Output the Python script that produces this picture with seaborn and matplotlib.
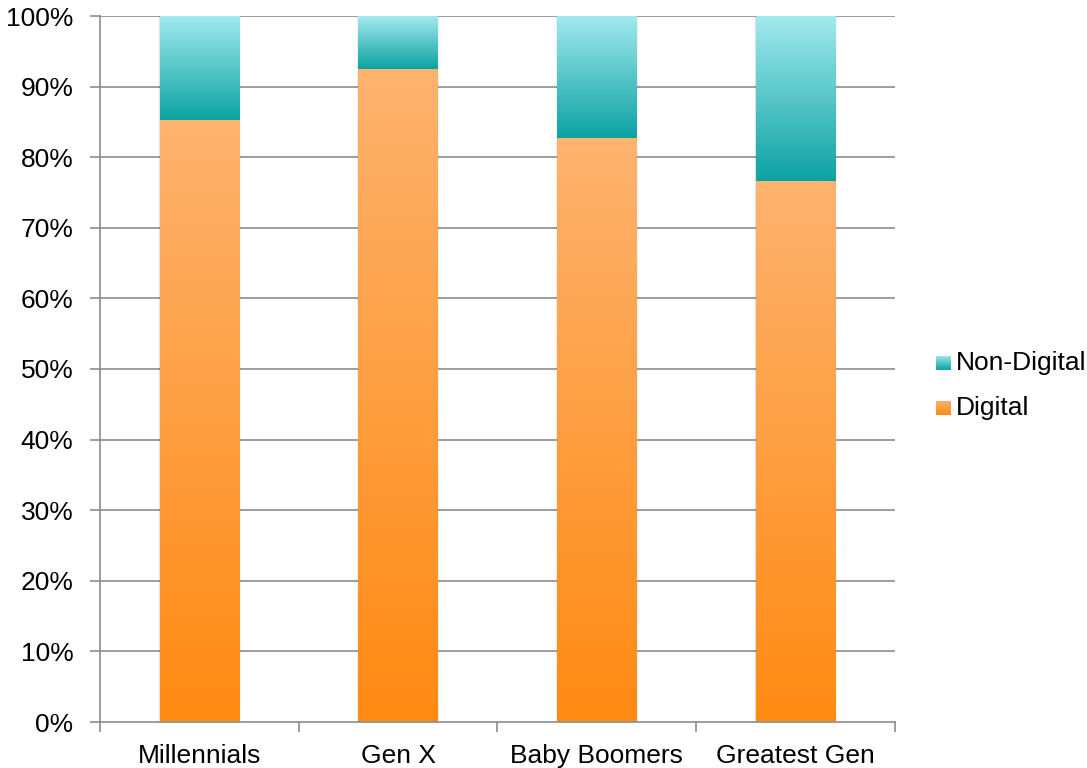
import numpy as np
import pandas as pd
import matplotlib
matplotlib.use("Agg")
import matplotlib.pyplot as plt
from matplotlib.colors import LinearSegmentedColormap
from matplotlib.ticker import FixedLocator, FuncFormatter
import seaborn as sns

# Share of media consumption by generation (percent)
generations = ["Millennials", "Gen X", "Baby Boomers", "Greatest Gen"]
digital = [85.3, 92.5, 82.7, 76.6]
non_digital = [100 - d for d in digital]
series_names = ["Non-Digital", "Digital"]

df = pd.DataFrame({"generation": generations, "Digital": digital,
                   "Non-Digital": non_digital})
df["total"] = df["Digital"] + df["Non-Digital"]

sns.set_theme(style="white")
plt.rcParams["font.family"] = ["Liberation Sans", "DejaVu Sans"]

GRID = "#8c8c8c"
FS = 19
orange_cmap = LinearSegmentedColormap.from_list("orange", ["#FF8A12", "#FDB36F"])
teal_cmap = LinearSegmentedColormap.from_list("teal", ["#0CA2A3", "#A2EAEE"])

fig = plt.figure(figsize=(10.87, 7.68), dpi=100)
ax = fig.add_axes([100 / 1087, 46 / 768, 795 / 1087, 706 / 768])

# Stacked bars: full-height bar for the total, digital share on top of it
sns.barplot(data=df, x="generation", y="total", ax=ax, width=0.4,
            color="#0CA2A3", saturation=1, zorder=3)
n = len(generations)
sns.barplot(data=df, x="generation", y="Digital", ax=ax, width=0.4,
            color="#FF8A12", saturation=1, zorder=4)

grad = np.linspace(0, 1, 256).reshape(-1, 1)
patches = ax.patches
total_bars = patches[:n]
digital_bars = patches[n:2 * n]
for tb, db in zip(total_bars, digital_bars):
    x0 = tb.get_x()
    w = tb.get_width()
    top = tb.get_height()
    mid = db.get_height()
    # soft shadow around each bar
    for k, a in [(3.0, 0.025), (2.0, 0.035), (1.0, 0.05)]:
        dx = k * 0.0027
        ax.add_patch(plt.Rectangle((x0 - dx, 0), w + 2 * dx, top, color="black",
                                   alpha=a, lw=0, zorder=2.5))
    tb.set_visible(False)
    db.set_visible(False)
    ax.imshow(grad, cmap=orange_cmap, origin="lower", aspect="auto",
              extent=(x0, x0 + w, 0, mid), zorder=4, interpolation="bilinear")
    ax.imshow(grad, cmap=teal_cmap, origin="lower", aspect="auto",
              extent=(x0, x0 + w, mid, top), zorder=4, interpolation="bilinear")

ax.set_xlim(-0.5, n - 0.5)
ax.set_ylim(0, 100)
ax.set_xlabel("")
ax.set_ylabel("")

ax.yaxis.set_major_locator(FixedLocator(np.arange(0, 101, 10)))
ax.yaxis.set_major_formatter(FuncFormatter(lambda v, p: f"{int(v)}%"))
for y in range(10, 101, 10):
    ax.axhline(y, color=GRID, lw=1.2, zorder=1)

ax.xaxis.set_minor_locator(FixedLocator(np.arange(-0.5, n, 1.0)))
ax.tick_params(axis="x", which="major", length=0, pad=15.5, labelsize=FS,
               labelcolor="black")
ax.tick_params(axis="x", which="minor", length=7, width=1.2, color=GRID,
               direction="out", bottom=True)
ax.tick_params(axis="y", which="major", length=7, width=1.2, color=GRID,
               direction="out", left=True, pad=12, labelsize=FS,
               labelcolor="black")

for side in ["top", "right"]:
    ax.spines[side].set_visible(False)
for side in ["left", "bottom"]:
    ax.spines[side].set_color(GRID)
    ax.spines[side].set_linewidth(1.2)
    ax.spines[side].set_zorder(5)

# Legend with gradient swatches
legend_items = [("Non-Digital", teal_cmap, 363), ("Digital", orange_cmap, 408)]
for label, cmap, yc in legend_items:
    sw = fig.add_axes([936 / 1087, 1 - (yc + 7.5) / 768, 15 / 1087, 15 / 768])
    sw.imshow(grad, cmap=cmap, origin="lower", aspect="auto",
              interpolation="bilinear")
    sw.set_axis_off()
    fig.text(956 / 1087, 1 - yc / 768, label, fontsize=FS, va="center",
             ha="left", color="black")

fig.savefig("out.png", dpi=100)
